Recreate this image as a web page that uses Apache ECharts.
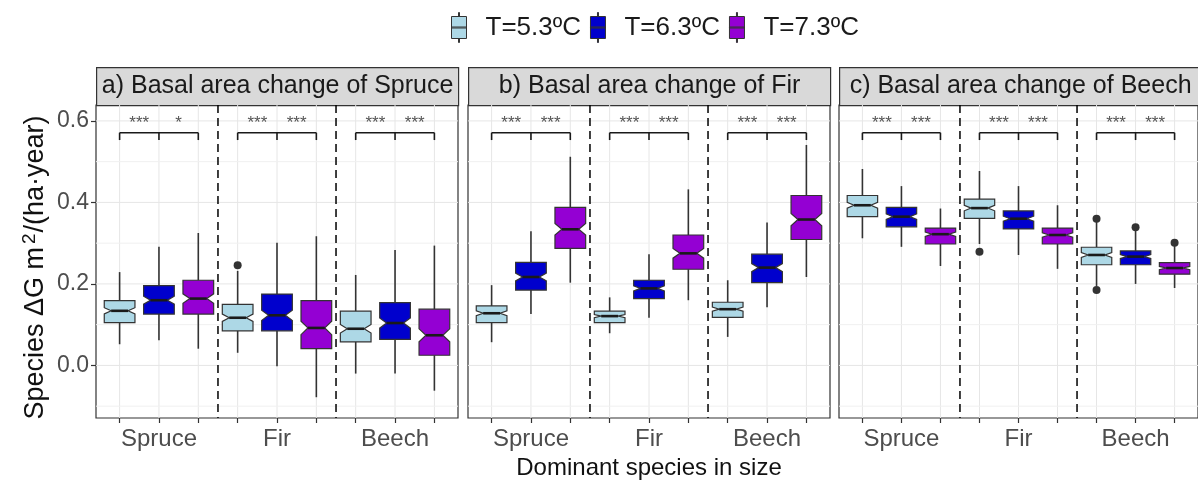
<!DOCTYPE html>
<html>
<head>
<meta charset="utf-8">
<script src="https://cdn.jsdelivr.net/npm/echarts@6/dist/echarts.min.js"></script>
<style>html,body{margin:0;padding:0;background:#fff}#c{width:1198px;height:486px}</style>
</head>
<body>
<div id="c"></div>
<script>
// ---------- data ----------
const categories = ['Spruce', 'Fir', 'Beech'];
const temps = ['T=5.3ºC', 'T=6.3ºC', 'T=7.3ºC'];
const panelTitles = ['a) Basal area change of Spruce', 'b) Basal area change of Fir', 'c) Basal area change of Beech'];
const yMajorTicks = [0, 0.2, 0.4, 0.6];
const yMinorTicks = [-0.1, 0.1, 0.3, 0.5];

// box stats per dominant species (Spruce, Fir, Beech): [lowWhisker, Q1, median, Q3, highWhisker]
// panel a: Spruce basal area change
const spruceT53 = [[0.052, 0.105, 0.134, 0.159, 0.229], [0.031, 0.085, 0.117, 0.150, 0.232], [-0.020, 0.058, 0.090, 0.133, 0.222]];
const spruceT63 = [[0.062, 0.126, 0.160, 0.196, 0.291], [-0.002, 0.085, 0.123, 0.175, 0.301], [-0.020, 0.064, 0.104, 0.154, 0.283]];
const spruceT73 = [[0.041, 0.126, 0.164, 0.209, 0.325], [-0.078, 0.041, 0.092, 0.159, 0.317], [-0.062, 0.025, 0.074, 0.138, 0.294]];
// panel b: Fir basal area change
const firT53 = [[0.057, 0.105, 0.128, 0.146, 0.197], [0.079, 0.105, 0.121, 0.133, 0.167], [0.070, 0.118, 0.138, 0.155, 0.209]];
const firT63 = [[0.126, 0.185, 0.217, 0.253, 0.329], [0.117, 0.164, 0.189, 0.209, 0.273], [0.143, 0.203, 0.240, 0.273, 0.351]];
const firT73 = [[0.203, 0.287, 0.334, 0.388, 0.512], [0.160, 0.236, 0.275, 0.320, 0.432], [0.217, 0.309, 0.358, 0.417, 0.541]];
// panel c: Beech basal area change
const beechT53 = [[0.312, 0.365, 0.393, 0.417, 0.482], [0.298, 0.361, 0.386, 0.408, 0.477], [0.195, 0.247, 0.271, 0.290, 0.352]];
const beechT63 = [[0.291, 0.340, 0.365, 0.388, 0.440], [0.271, 0.335, 0.360, 0.379, 0.440], [0.200, 0.247, 0.267, 0.281, 0.332]];
const beechT73 = [[0.244, 0.298, 0.322, 0.337, 0.385], [0.237, 0.298, 0.320, 0.337, 0.393], [0.190, 0.224, 0.239, 0.252, 0.296]];

// outliers: [speciesIndex, tempIndex, value]
const spruceOutliers = [[1, 0, 0.246]];
const firOutliers = [];
const beechOutliers = [[1, 0, 0.279], [2, 0, 0.360], [2, 0, 0.185], [2, 1, 0.339], [2, 2, 0.301]];

// significance labels per dominant species: [T5.3 vs T6.3, T6.3 vs T7.3]
const spruceSig = [['***', '*'], ['***', '***'], ['***', '***']];
const firSig = [['***', '***'], ['***', '***'], ['***', '***']];
const beechSig = [['***', '***'], ['***', '***'], ['***', '***']];

// ---------- styling ----------
const colors = ['#ADD8E6', '#0000CD', '#9400D3'];
const FONT = '"Liberation Sans", Arial, sans-serif';
const BOX_W = 0.78;
const NOTCH = 0.14;
const BRACKET_Y = 0.571, BRACKET_TICK = 0.553, STAR_Y = 0.600;

const panels = [
  { stats: [spruceT53, spruceT63, spruceT73], outliers: spruceOutliers, sig: spruceSig },
  { stats: [firT53, firT63, firT73], outliers: firOutliers, sig: firSig },
  { stats: [beechT53, beechT63, beechT73], outliers: beechOutliers, sig: beechSig }
];
const gridLefts = [96, 468, 839];
const GRID_TOP = 105, GRID_H = 313, GRID_W = 362;
const pos = (s, t) => s * 3 + t + 1;
const xPositions = [1, 2, 3, 4, 5, 6, 7, 8, 9];
const separators = [3.5, 6.5];

function renderBox(params, api) {
  const x = api.value(0);
  const lo = api.value(1), q1 = api.value(2), md = api.value(3), q3 = api.value(4), hi = api.value(5);
  const c = v => api.coord([x, v]);
  const px = c(md)[0];
  const hw = api.size([BOX_W, 0])[0] / 2;
  const yLo = c(lo)[1], yQ1 = c(q1)[1], yMd = c(md)[1], yQ3 = c(q3)[1], yHi = c(hi)[1];
  const nh = api.size([0, NOTCH * (q3 - q1)])[1];
  const iw = hw * 0.55;
  const fill = api.visual('color');
  const stroke = '#333';
  return {
    type: 'group',
    children: [
      { type: 'line', shape: { x1: px, y1: yHi, x2: px, y2: yQ3 }, style: { stroke, lineWidth: 1.6 } },
      { type: 'line', shape: { x1: px, y1: yQ1, x2: px, y2: yLo }, style: { stroke, lineWidth: 1.6 } },
      { type: 'polygon', shape: { points: [[px - hw, yQ3], [px + hw, yQ3], [px + hw, yMd - nh], [px + iw, yMd], [px + hw, yMd + nh], [px + hw, yQ1], [px - hw, yQ1], [px - hw, yMd + nh], [px - iw, yMd], [px - hw, yMd - nh]] }, style: { fill, stroke, lineWidth: 1.2 } },
      { type: 'line', shape: { x1: px - iw, y1: yMd, x2: px + iw, y2: yMd }, style: { stroke: '#1a1a1a', lineWidth: 2.6 } }
    ]
  };
}

function renderGridLines(params, api) {
  const cs = params.coordSys;
  const v = api.value(0), kind = api.value(1);
  if (kind === 0) {
    const x = api.coord([v, 0])[0];
    return { type: 'line', shape: { x1: x, y1: cs.y, x2: x, y2: cs.y + cs.height }, style: { stroke: '#e6e6e6', lineWidth: 1 } };
  }
  if (kind === 1 || kind === 2) {
    const y = api.coord([1, v])[1];
    return { type: 'line', shape: { x1: cs.x, y1: y, x2: cs.x + cs.width, y2: y }, style: { stroke: kind === 1 ? '#e6e6e6' : '#f0f0f0', lineWidth: 1 } };
  }
  const x = api.coord([v, 0])[0];
  return { type: 'line', z2: 5, shape: { x1: x, y1: cs.y, x2: x, y2: cs.y + cs.height }, style: { stroke: '#000', lineWidth: 1.5, lineDash: [8, 5] } };
}

function makeBracketRenderer(sig) {
  return function (params, api) {
    const s = api.value(0);
    const p1 = pos(s, 0), p2 = pos(s, 1), p3 = pos(s, 2);
    const yb = api.coord([p1, BRACKET_Y])[1];
    const yt = api.coord([p1, BRACKET_TICK])[1];
    const ys = api.coord([p1, STAR_Y])[1];
    const x1 = api.coord([p1, 0])[0], x2 = api.coord([p2, 0])[0], x3 = api.coord([p3, 0])[0];
    const st = { stroke: '#1a1a1a', lineWidth: 1.6 };
    const labels = sig[s];
    const ts = { align: 'center', verticalAlign: 'middle', fill: '#555', fontSize: 17, fontFamily: FONT };
    return {
      type: 'group',
      children: [
        { type: 'line', shape: { x1: x1, y1: yb, x2: x3, y2: yb }, style: st },
        { type: 'line', shape: { x1: x1, y1: yb, x2: x1, y2: yt }, style: st },
        { type: 'line', shape: { x1: x2, y1: yb, x2: x2, y2: yt }, style: st },
        { type: 'line', shape: { x1: x3, y1: yb, x2: x3, y2: yt }, style: st },
        { type: 'text', style: Object.assign({ text: labels[0], x: (x1 + x2) / 2, y: ys + 2 }, ts) },
        { type: 'text', style: Object.assign({ text: labels[1], x: (x2 + x3) / 2, y: ys + 2 }, ts) }
      ]
    };
  };
}

const grids = [], xAxes = [], yAxes = [], series = [], graphics = [];
panels.forEach((p, gi) => {
  grids.push({ left: gridLefts[gi], top: GRID_TOP, width: GRID_W, height: GRID_H, show: true, borderColor: '#333', borderWidth: 1.2, backgroundColor: '#fff' });
  xAxes.push({
    type: 'value', gridIndex: gi, min: 0.4, max: 9.6, position: 'bottom',
    axisLine: { show: false, onZero: false },
    splitLine: { show: false },
    axisTick: { show: true, length: 5, lineStyle: { color: '#333', width: 1.2 }, customValues: xPositions },
    axisLabel: { show: true, customValues: [2, 5, 8], formatter: v => categories[Math.round((v - 2) / 3)], fontSize: 24, color: '#4d4d4d', fontFamily: FONT, margin: 9 },
    name: gi === 1 ? 'Dominant species in size' : '',
    nameLocation: 'middle', nameGap: 38,
    nameTextStyle: { fontSize: 24, color: '#111', fontFamily: FONT }
  });
  yAxes.push({
    type: 'value', gridIndex: gi, min: -0.129, max: 0.639, position: 'left',
    axisLine: { show: false, onZero: false },
    splitLine: { show: false },
    axisTick: { show: gi === 0, length: 5, lineStyle: { color: '#333', width: 1.2 }, customValues: yMajorTicks },
    axisLabel: { show: gi === 0, customValues: yMajorTicks, formatter: v => v.toFixed(1), fontSize: 23, color: '#4d4d4d', fontFamily: FONT, margin: 7 },
    name: gi === 0 ? '{a|Species ΔG m}{s|2}{a|/(ha·year)}' : '',
    nameLocation: 'middle', nameGap: 44, nameRotate: 90,
    nameTextStyle: {
      fontFamily: FONT, color: '#111', padding: [0, 12, 0, 0],
      rich: {
        a: { fontSize: 27, fontFamily: FONT, color: '#111', lineHeight: 32 },
        s: { fontSize: 19, fontFamily: FONT, color: '#111', verticalAlign: 'top', lineHeight: 32, padding: [0, 1, 0, 3] }
      }
    }
  });

  const gridData = [];
  xPositions.forEach(x => gridData.push([x, 0]));
  yMajorTicks.forEach(y => gridData.push([y, 1]));
  yMinorTicks.forEach(y => gridData.push([y, 2]));
  separators.forEach(x => gridData.push([x, 3]));
  series.push({ type: 'custom', xAxisIndex: gi, yAxisIndex: gi, renderItem: renderGridLines, data: gridData, z: 1, silent: true, clip: false });

  p.stats.forEach((arr, ti) => {
    series.push({
      type: 'custom', name: temps[ti], xAxisIndex: gi, yAxisIndex: gi,
      itemStyle: { color: colors[ti] },
      renderItem: renderBox, z: 3,
      data: arr.map((st, si) => [pos(si, ti)].concat(st))
    });
  });

  series.push({
    type: 'scatter', xAxisIndex: gi, yAxisIndex: gi, symbolSize: 8, z: 4,
    itemStyle: { color: '#333', opacity: 1 },
    data: p.outliers.map(o => [pos(o[0], o[1]), o[2]])
  });

  series.push({ type: 'custom', xAxisIndex: gi, yAxisIndex: gi, renderItem: makeBracketRenderer(p.sig), data: [[0], [1], [2]], z: 4, silent: true });

  graphics.push({
    type: 'rect', left: gridLefts[gi], top: 67,
    shape: { width: GRID_W, height: 38 },
    style: { fill: '#d9d9d9', stroke: '#333', lineWidth: 1.2 },
    textContent: { style: { text: panelTitles[gi], fontSize: 25, fontFamily: FONT, fill: '#1a1a1a' } },
    textConfig: { position: 'inside' }
  });
});

const chart = echarts.init(document.getElementById('c'), null, { renderer: 'canvas' });
chart.setOption({
  animation: false,
  backgroundColor: '#fff',
  legend: {
    data: temps, left: 446, top: 7,
    icon: 'path://M0,4H15V26H0Z M7,0H8V4H7Z M7,26H8V30H7Z M0,14.5H15V15.5H0Z',
    itemWidth: 15, itemHeight: 30, itemGap: 9,
    itemStyle: { borderColor: '#333', borderWidth: 1 },
    textStyle: { fontSize: 26, color: '#1a1a1a', fontFamily: FONT, padding: [0, 0, 0, 14] }
  },
  grid: grids, xAxis: xAxes, yAxis: yAxes, series: series, graphic: graphics
});
</script>
</body>
</html>
